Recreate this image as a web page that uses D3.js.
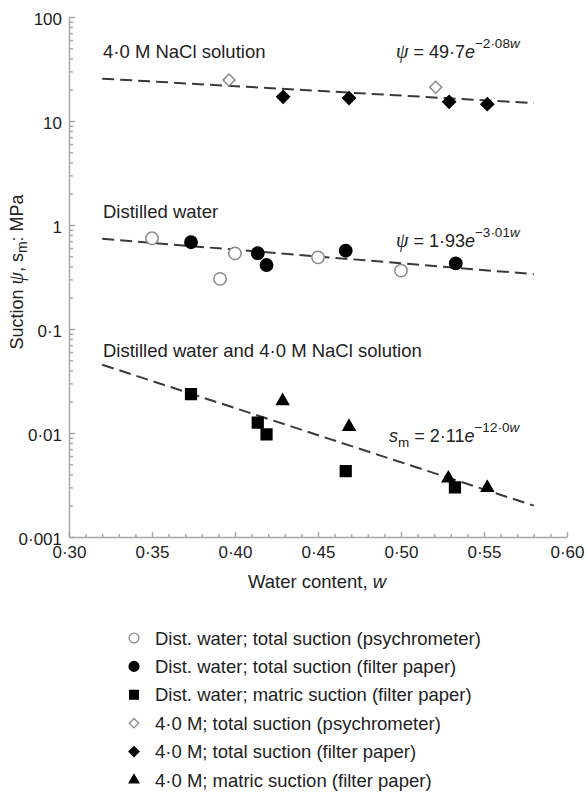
<!DOCTYPE html>
<html>
<head>
<meta charset="utf-8">
<script src="https://cdn.jsdelivr.net/npm/d3@7"></script>
<style>
  body { margin: 0; background: #fff; }
  text { font-family: "Liberation Sans", Arial, sans-serif; fill: #222; }
  .ax path, .ax line { stroke: #a8a8a8; stroke-width: 1.5; }
  .ax text { font-size: 17px; fill: #222; }
</style>
</head>
<body>
<svg id="chart" width="587" height="792"></svg>
<script>
// values: water content w and suction (MPa)
var distPsyW  = [0.350, 0.391, 0.400, 0.450, 0.500];
var distPsyS  = [0.745, 0.303, 0.534, 0.489, 0.364];
var distFpW   = [0.3735, 0.4137, 0.419, 0.4667, 0.533];
var distFpS   = [0.683, 0.535, 0.412, 0.566, 0.428];
var distMatW  = [0.3735, 0.4137, 0.419, 0.4667, 0.5325];
var distMatS  = [0.0237, 0.0126, 0.0097, 0.0043, 0.0030];
var naclPsyW  = [0.3964, 0.5209];
var naclPsyS  = [24.8, 21.1];
var naclFpW   = [0.429, 0.4687, 0.529, 0.552];
var naclFpS   = [17.1, 16.6, 15.3, 14.5];
var naclMatW  = [0.4287, 0.4687, 0.5285, 0.552];
var naclMatS  = [0.0203, 0.0115, 0.00366, 0.00298];

// fitted curves y = a * exp(b * w), drawn over w from 0.32 to 0.58
var fitA = [49.7, 1.93, 2.11];
var fitB = [-2.08, -3.01, -12.0];
var fitW = [0.32, 0.58];

var xTicks = [0.30, 0.35, 0.40, 0.45, 0.50, 0.55, 0.60];
var xTickLabels = ["0·30", "0·35", "0·40", "0·45", "0·50", "0·55", "0·60"];
var yTicks = [0.001, 0.01, 0.1, 1, 10, 100];
var yTickLabels = ["0·001", "0·01", "0·1", "1", "10", "100"];

var legendLabels = [
  "Dist. water; total suction (psychrometer)",
  "Dist. water; total suction (filter paper)",
  "Dist. water; matric suction (filter paper)",
  "4·0 M; total suction (psychrometer)",
  "4·0 M; total suction (filter paper)",
  "4·0 M; matric suction (filter paper)"
];

var svg = d3.select("#chart");

var x = d3.scaleLinear().domain([0.30, 0.60]).range([69, 567]);
var y = d3.scaleLog().domain([0.001, 100]).range([537, 17]);

// minor ticks
var xMinor = d3.range(31, 60).map(function(d) { return d / 100; })
  .filter(function(d) { return Math.round(d * 100) % 5 !== 0; });
var yMinor = [];
[0.001, 0.01, 0.1, 1, 10].forEach(function(dec) {
  for (var k = 2; k <= 9; k++) yMinor.push(dec * k);
});

svg.append("g").attr("class", "ax")
  .attr("transform", "translate(0,537)")
  .call(d3.axisBottom(x).tickValues(xMinor).tickSize(-3).tickFormat(""))
  .select(".domain").remove();
svg.append("g").attr("class", "ax")
  .attr("transform", "translate(69,0)")
  .call(d3.axisLeft(y).tickValues(yMinor).tickSize(-4).tickFormat(""))
  .select(".domain").remove();

svg.append("g").attr("class", "ax")
  .attr("transform", "translate(0,537)")
  .call(d3.axisBottom(x).tickValues(xTicks).tickSize(-5).tickSizeOuter(0).tickPadding(9)
    .tickFormat(function(d, i) { return xTickLabels[i]; }));

svg.append("g").attr("class", "ax")
  .attr("transform", "translate(69,0)")
  .call(d3.axisLeft(y).tickValues(yTicks).tickSize(-6).tickSizeOuter(0).tickPadding(7)
    .tickFormat(function(d, i) { return yTickLabels[i]; }))
  .selectAll("text").attr("dy", "0.45em");

// fit lines
fitA.forEach(function(a, i) {
  var pts = fitW.map(function(w) { return [w, a * Math.exp(fitB[i] * w)]; });
  svg.append("path")
    .attr("d", d3.line().x(function(d) { return x(d[0]); }).y(function(d) { return y(d[1]); })(pts))
    .attr("fill", "none")
    .attr("stroke", "#3a3a3a")
    .attr("stroke-width", 2)
    .attr("stroke-dasharray", "12,6");
});

var series = [
  { w: distPsyW, s: distPsyS, shape: d3.symbolCircle, size: 120, fill: "#fff", stroke: "#8a8a8a", rot: 0 },
  { w: distFpW,  s: distFpS,  shape: d3.symbolCircle, size: 120, fill: "#000", stroke: "#000", rot: 0 },
  { w: distMatW, s: distMatS, shape: d3.symbolSquare, size: 115, fill: "#000", stroke: "#000", rot: 0 },
  { w: naclPsyW, s: naclPsyS, shape: d3.symbolSquare, size: 72,  fill: "#fff", stroke: "#8a8a8a", rot: 45 },
  { w: naclFpW,  s: naclFpS,  shape: d3.symbolSquare, size: 80,  fill: "#000", stroke: "#000", rot: 45 },
  { w: naclMatW, s: naclMatS, shape: d3.symbolTriangle, size: 62, fill: "#000", stroke: "#000", rot: 0 }
];

series.forEach(function(ser) {
  svg.append("g").selectAll("path")
    .data(ser.w.map(function(w, i) { return [w, ser.s[i]]; }))
    .join("path")
      .attr("d", d3.symbol().type(ser.shape).size(ser.size))
      .attr("transform", function(d) {
        return "translate(" + x(d[0]) + "," + y(d[1]) + ") rotate(" + ser.rot + ")";
      })
      .attr("fill", ser.fill)
      .attr("stroke", ser.stroke)
      .attr("stroke-width", 1.5);
});

// group labels
var groupLabels = ["4·0 M NaCl solution", "Distilled water", "Distilled water and 4·0 M NaCl solution"];
var groupLabelY = [58, 218, 357];
groupLabels.forEach(function(t, i) {
  svg.append("text").attr("x", 103).attr("y", groupLabelY[i])
    .style("font-size", "18.5px").text(t);
});

// equations
function equation(xp, yp, lhs, sub, coef, expo) {
  var t = svg.append("text").attr("x", xp).attr("y", yp).style("font-size", "18px");
  if (sub) {
    t.append("tspan").style("font-style", "italic").text(lhs);
    t.append("tspan").attr("dy", 5).style("font-size", "13.5px").text(sub);
    t.append("tspan").attr("dy", -5).text(" = " + coef);
  } else {
    t.append("tspan").style("font-family", "'Liberation Serif', serif").style("font-style", "italic")
      .style("font-size", "20px").text(lhs);
    t.append("tspan").text(" = " + coef);
  }
  t.append("tspan").style("font-style", "italic").text("e");
  t.append("tspan").attr("dy", -10).style("font-size", "13.5px").text("−" + expo);
  t.append("tspan").style("font-size", "13.5px").style("font-style", "italic").text("w");
}
equation(396, 58, "ψ", null, "49·7", "2·08");
equation(396, 247, "ψ", null, "1·93", "3·01");
equation(389, 442, "s", "m", "2·11", "12·0");

// axis titles
svg.append("text").attr("x", 317).attr("y", 588).attr("text-anchor", "middle")
  .style("font-size", "18.5px")
  .call(function(t) {
    t.append("tspan").text("Water content, ");
    t.append("tspan").style("font-style", "italic").text("w");
  });

svg.append("text")
  .attr("transform", "translate(23,272) rotate(-90)")
  .attr("text-anchor", "middle")
  .style("font-size", "18px")
  .call(function(t) {
    t.append("tspan").text("Suction ");
    t.append("tspan").style("font-family", "'Liberation Serif', serif").style("font-style", "italic")
      .style("font-size", "20px").text("ψ");
    t.append("tspan").text(", s");
    t.append("tspan").attr("dy", 4).style("font-size", "14px").text("m");
    t.append("tspan").attr("dy", -4).text(": MPa");
  });

// legend
var legend = svg.append("g");
var legSizes = [75, 75, 75, 45, 50, 40];
legendLabels.forEach(function(lab, i) {
  var ser = series[i];
  var ly = 638 + i * 28.4;
  legend.append("path")
    .attr("d", d3.symbol().type(ser.shape).size(legSizes[i]))
    .attr("transform", "translate(134," + ly + ") rotate(" + ser.rot + ")")
    .attr("fill", ser.fill)
    .attr("stroke", ser.stroke)
    .attr("stroke-width", 1.3);
  legend.append("text").attr("x", 155).attr("y", ly + 6.5)
    .style("font-size", "18.5px").text(lab);
});
</script>
</body>
</html>
